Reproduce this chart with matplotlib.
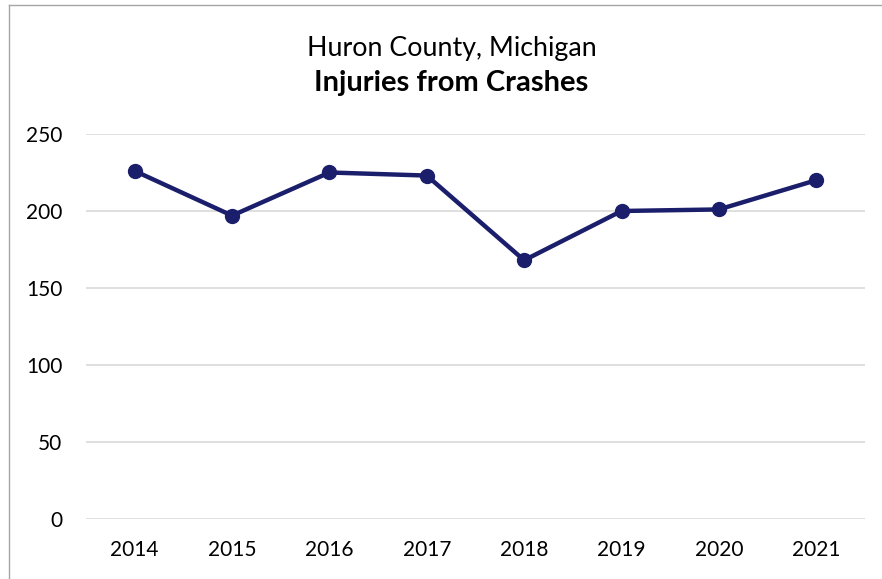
import matplotlib.pyplot as plt
from matplotlib.lines import Line2D

years = ["2014", "2015", "2016", "2017", "2018", "2019", "2020", "2021"]
injuries = [226, 197, 225, 223, 168, 200, 201, 220]
y_ticks = [0, 50, 100, 150, 200, 250]

plt.rcParams['font.family'] = ['Lato', 'DejaVu Sans']

fig = plt.figure(figsize=(8.82, 5.79), dpi=100)
ax = fig.add_axes([0.0975, 0.1036, 0.8832, 0.665])

x = range(len(years))
ax.plot(x, injuries, color="#1b1f6b", lw=3.2, marker="o", markersize=10,
        solid_capstyle="round", zorder=3)

ax.set_xlim(-0.5, len(years) - 0.5)
ax.set_ylim(0, 250)
ax.set_xticks(list(x))
ax.set_xticklabels(years)
ax.set_yticks(y_ticks)
ax.tick_params(length=0, labelsize=15)
ax.tick_params(axis='x', pad=15)
ax.tick_params(axis='y', pad=17)
ax.grid(axis='y', color="#d9d9d9", lw=1.2)
ax.set_axisbelow(True)
for spine in ax.spines.values():
    spine.set_visible(False)

# Titles
fig.text(0.512, 0.917, "Huron County, Michigan", ha="center", va="center", fontsize=19.3)
fig.text(0.512, 0.856, "Injuries from Crashes", ha="center", va="center",
         fontsize=21, fontweight="bold")

# Chart frame, left and top edges
fig.add_artist(Line2D([0.0105, 0.0105], [0, 0.991], color="#a6a6a6", lw=1))
fig.add_artist(Line2D([0.0105, 1.0], [0.991, 0.991], color="#a6a6a6", lw=1))

fig.savefig("out.png", dpi=100)
